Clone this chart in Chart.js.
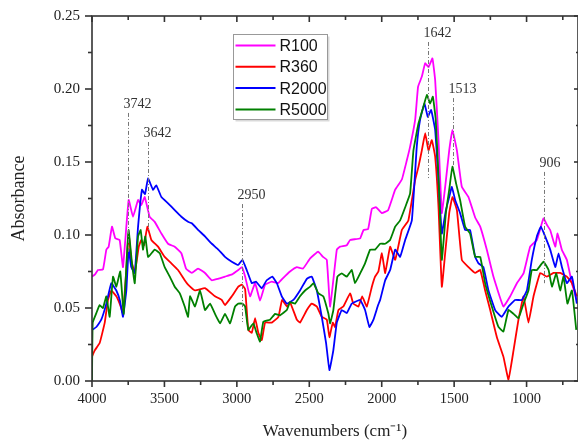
<!DOCTYPE html>
<html>
<head>
<meta charset="utf-8">
<script src="https://cdn.jsdelivr.net/npm/chart.js@4.4.1/dist/chart.umd.min.js"></script>
<style>
  html, body { margin: 0; padding: 0; background: #fff; }
  canvas { display: block; }
</style>
</head>
<body>
<canvas id="chart" width="578" height="442"></canvas>
<script>
// ---- data (wavenumber in cm-1, absorbance) ----
const seriesNames = ['R100', 'R360', 'R2000', 'R5000'];
const seriesColors = ['#ff00ff', '#ff0000', '#0000ff', '#008000'];

const r100X = [4000, 3979, 3959, 3924, 3901, 3885, 3862, 3839, 3809, 3786, 3747, 3717, 3682, 3660, 3636, 3602, 3567, 3521, 3475, 3429, 3383, 3351, 3311, 3268, 3220, 3173, 3130, 3082, 3033, 2990, 2964, 2943, 2909, 2874, 2840, 2805, 2759, 2715, 2681, 2633, 2586, 2543, 2494, 2439, 2405, 2379, 2356, 2310, 2287, 2241, 2218, 2149, 2126, 2094, 2068, 2039, 1999, 1956, 1907, 1861, 1827, 1804, 1769, 1749, 1723, 1700, 1677, 1650, 1631, 1608, 1585, 1562, 1534, 1512, 1481, 1447, 1401, 1355, 1320, 1274, 1229, 1160, 1113, 1067, 1021, 975, 929, 906, 883, 860, 837, 802, 786, 756, 722, 687, 653];
const r100Y = [0.0715, 0.073, 0.076, 0.0765, 0.090, 0.092, 0.1057, 0.0977, 0.0966, 0.078, 0.124, 0.1125, 0.124, 0.1205, 0.126, 0.1125, 0.109, 0.101, 0.094, 0.092, 0.0875, 0.077, 0.074, 0.077, 0.074, 0.069, 0.070, 0.0715, 0.073, 0.076, 0.078, 0.0715, 0.058, 0.067, 0.055, 0.066, 0.068, 0.067, 0.0705, 0.075, 0.078, 0.077, 0.084, 0.0886, 0.085, 0.083, 0.051, 0.090, 0.092, 0.093, 0.0966, 0.0977, 0.1034, 0.104, 0.118, 0.119, 0.115, 0.117, 0.131, 0.138, 0.151, 0.1605, 0.179, 0.2016, 0.2085, 0.2176, 0.215, 0.221, 0.206, 0.165, 0.115, 0.133, 0.158, 0.172, 0.158, 0.133, 0.126, 0.112, 0.1057, 0.0897, 0.0715, 0.051, 0.058, 0.067, 0.0737, 0.092, 0.0966, 0.104, 0.1114, 0.107, 0.1034, 0.092, 0.101, 0.0897, 0.083, 0.067, 0.0555];

const r360X = [4000, 3981, 3947, 3912, 3890, 3867, 3832, 3809, 3786, 3763, 3747, 3729, 3705, 3677, 3660, 3641, 3618, 3590, 3544, 3498, 3452, 3406, 3360, 3337, 3289, 3220, 3151, 3104, 3082, 3035, 2990, 2966, 2943, 2921, 2897, 2874, 2852, 2828, 2805, 2759, 2713, 2688, 2653, 2633, 2586, 2564, 2517, 2483, 2448, 2414, 2379, 2361, 2338, 2322, 2299, 2265, 2218, 2196, 2161, 2135, 2103, 2068, 2046, 2023, 1999, 1976, 1942, 1907, 1861, 1816, 1769, 1746, 1723, 1700, 1677, 1654, 1631, 1608, 1585, 1562, 1534, 1512, 1481, 1447, 1401, 1355, 1320, 1286, 1251, 1205, 1160, 1125, 1090, 1056, 1021, 987, 952, 906, 860, 814, 768, 722, 687, 653];
const r360Y = [0.0167, 0.021, 0.026, 0.040, 0.0555, 0.062, 0.058, 0.053, 0.0465, 0.076, 0.101, 0.083, 0.074, 0.092, 0.0966, 0.093, 0.1057, 0.0966, 0.092, 0.085, 0.0806, 0.076, 0.069, 0.066, 0.062, 0.0636, 0.058, 0.0555, 0.052, 0.058, 0.0646, 0.066, 0.063, 0.035, 0.033, 0.043, 0.033, 0.028, 0.040, 0.040, 0.044, 0.0555, 0.051, 0.054, 0.042, 0.040, 0.0486, 0.053, 0.051, 0.044, 0.042, 0.030, 0.040, 0.037, 0.0486, 0.051, 0.060, 0.053, 0.051, 0.058, 0.051, 0.0646, 0.0715, 0.075, 0.0875, 0.074, 0.092, 0.083, 0.1034, 0.110, 0.1377, 0.1468, 0.158, 0.1697, 0.158, 0.165, 0.1536, 0.119, 0.0646, 0.0875, 0.115, 0.126, 0.117, 0.083, 0.078, 0.074, 0.076, 0.062, 0.0486, 0.030, 0.0167, 0.001, 0.021, 0.042, 0.058, 0.040, 0.058, 0.074, 0.0715, 0.074, 0.074, 0.0715, 0.067, 0.058];

const r2000X = [4000, 3970, 3936, 3901, 3867, 3832, 3807, 3786, 3763, 3747, 3729, 3705, 3682, 3655, 3634, 3613, 3579, 3556, 3521, 3475, 3429, 3383, 3337, 3311, 3266, 3220, 3173, 3128, 3082, 3035, 2990, 2962, 2932, 2897, 2867, 2828, 2794, 2755, 2724, 2690, 2655, 2610, 2564, 2517, 2483, 2448, 2414, 2384, 2361, 2334, 2310, 2276, 2241, 2207, 2149, 2115, 2085, 2057, 2025, 2011, 1976, 1942, 1907, 1873, 1838, 1792, 1758, 1735, 1705, 1682, 1659, 1631, 1608, 1585, 1557, 1534, 1516, 1493, 1459, 1424, 1390, 1355, 1332, 1298, 1263, 1217, 1171, 1125, 1079, 1033, 998, 964, 929, 901, 872, 837, 802, 779, 756, 722, 687, 653];
const r2000Y = [0.035, 0.037, 0.042, 0.053, 0.067, 0.062, 0.055, 0.044, 0.062, 0.090, 0.078, 0.074, 0.1057, 0.131, 0.128, 0.1388, 0.131, 0.134, 0.126, 0.1217, 0.117, 0.1125, 0.109, 0.108, 0.1034, 0.099, 0.094, 0.090, 0.085, 0.0817, 0.0795, 0.083, 0.076, 0.067, 0.068, 0.0635, 0.069, 0.0715, 0.067, 0.058, 0.053, 0.0555, 0.062, 0.070, 0.0715, 0.062, 0.044, 0.026, 0.0075, 0.021, 0.040, 0.0486, 0.0465, 0.053, 0.0555, 0.0486, 0.037, 0.042, 0.052, 0.0555, 0.069, 0.076, 0.090, 0.085, 0.0966, 0.110, 0.1605, 0.179, 0.190, 0.181, 0.1856, 0.172, 0.1377, 0.101, 0.117, 0.126, 0.133, 0.124, 0.115, 0.1034, 0.1034, 0.085, 0.0806, 0.078, 0.062, 0.0486, 0.044, 0.051, 0.0555, 0.0555, 0.062, 0.083, 0.099, 0.1057, 0.099, 0.090, 0.078, 0.0874, 0.078, 0.067, 0.0715, 0.053];

const r5000X = [4000, 3995, 3970, 3947, 3924, 3901, 3878, 3855, 3832, 3805, 3781, 3756, 3747, 3724, 3705, 3682, 3664, 3648, 3632, 3613, 3567, 3532, 3498, 3463, 3429, 3394, 3360, 3337, 3323, 3289, 3254, 3220, 3185, 3151, 3116, 3082, 3047, 3013, 2990, 2962, 2943, 2921, 2886, 2864, 2840, 2817, 2771, 2736, 2702, 2655, 2633, 2598, 2564, 2529, 2494, 2471, 2437, 2403, 2368, 2356, 2334, 2306, 2276, 2241, 2207, 2184, 2149, 2115, 2080, 2046, 2011, 1976, 1942, 1907, 1873, 1838, 1804, 1781, 1746, 1712, 1688, 1666, 1647, 1627, 1604, 1585, 1557, 1534, 1512, 1486, 1459, 1424, 1390, 1355, 1320, 1286, 1240, 1194, 1160, 1125, 1090, 1056, 1021, 987, 964, 929, 883, 848, 825, 795, 768, 745, 718, 687, 657];
const r5000Y = [0.0, 0.040, 0.0465, 0.052, 0.050, 0.058, 0.044, 0.0715, 0.0646, 0.075, 0.046, 0.092, 0.1034, 0.0806, 0.067, 0.099, 0.1034, 0.090, 0.099, 0.085, 0.090, 0.0874, 0.078, 0.0715, 0.0646, 0.060, 0.051, 0.044, 0.058, 0.051, 0.062, 0.0486, 0.053, 0.046, 0.0395, 0.046, 0.0395, 0.051, 0.053, 0.053, 0.051, 0.035, 0.0395, 0.033, 0.027, 0.0406, 0.042, 0.046, 0.045, 0.0486, 0.054, 0.053, 0.058, 0.062, 0.0646, 0.067, 0.060, 0.058, 0.046, 0.0395, 0.0486, 0.0715, 0.0737, 0.0715, 0.076, 0.067, 0.0737, 0.0806, 0.090, 0.090, 0.094, 0.094, 0.0966, 0.1057, 0.110, 0.119, 0.1285, 0.158, 0.1765, 0.188, 0.196, 0.190, 0.1947, 0.179, 0.131, 0.083, 0.115, 0.131, 0.1468, 0.135, 0.124, 0.1057, 0.101, 0.085, 0.085, 0.067, 0.051, 0.037, 0.0338, 0.0486, 0.046, 0.043, 0.053, 0.062, 0.076, 0.076, 0.0817, 0.076, 0.0646, 0.0737, 0.062, 0.0715, 0.053, 0.062, 0.035];

const xTickValues = [1000, 1500, 2000, 2500, 3000, 3500, 4000];

// peak annotations: label, position, dashed line from top value to bottom value
const peakLabels = ['3742', '3642', '2950', '1642', '1513', '906'];
const peakX = [3749, 3611, 2962, 1682, 1505, 878];
const peakTop = [0.1836, 0.1637, 0.1212, 0.2322, 0.1938, 0.1432];
const peakBottom = [0.0877, 0.1034, 0.0404, 0.139, 0.1459, 0.067];

const xs = [r100X, r360X, r2000X, r5000X];
const ys = [r100Y, r360Y, r2000Y, r5000Y];

const serif = "'Liberation Serif', 'Times New Roman', serif";
const sans = "'Liberation Sans', Arial, sans-serif";

const framePlugin = {
    id: 'frame',
    afterDatasetsDraw(chart) {
        const { ctx, scales: { x, y } } = chart;
        ctx.save();
        ctx.strokeStyle = '#777';
        ctx.lineWidth = 1;
        ctx.setLineDash([4, 2, 1, 2]);
        ctx.font = '14px ' + serif;
        ctx.fillStyle = '#333';
        ctx.textAlign = 'left';
        ctx.textBaseline = 'middle';
        peakLabels.forEach((label, i) => {
            const px = Math.round(x.getPixelForValue(peakX[i])) + 0.5;
            const top = y.getPixelForValue(peakTop[i]);
            ctx.beginPath();
            ctx.moveTo(px, top);
            ctx.lineTo(px, y.getPixelForValue(peakBottom[i]));
            ctx.stroke();
            ctx.fillText(label, px - 5, top - 9);
        });
        ctx.restore();
    },
    afterDraw(chart) {
        const { ctx, chartArea: a, scales: { x, y } } = chart;
        const seg = (x1, y1, x2, y2) => {
            ctx.beginPath();
            ctx.moveTo(x1, y1);
            ctx.lineTo(x2, y2);
            ctx.stroke();
        };
        ctx.save();
        ctx.strokeStyle = '#333';
        ctx.lineWidth = 1.6;
        ctx.strokeRect(a.left, a.top, a.right - a.left, a.bottom - a.top);

        for (let v = 750; v <= 4000; v += 250) {
            const px = x.getPixelForValue(v);
            const len = v % 500 === 0 ? 6 : 4;
            seg(px, a.bottom, px, a.bottom + len);
            seg(px, a.top, px, a.top + len);
        }
        for (let i = 0; i <= 10; i++) {
            const py = y.getPixelForValue(i * 0.025);
            const major = i % 2 === 0;
            seg(a.left - (major ? 7 : 4), py, a.left, py);
            seg(a.right - (major ? 4 : 2), py, a.right, py);
        }

        // legend box
        const lx = 233.5, ly = 34.5, lw = 94, lh = 85;
        ctx.fillStyle = 'rgba(0,0,0,0.15)';
        ctx.fillRect(lx + 2, ly + 2, lw, lh);
        ctx.fillStyle = '#fff';
        ctx.fillRect(lx, ly, lw, lh);
        ctx.strokeStyle = '#999';
        ctx.lineWidth = 1;
        ctx.strokeRect(lx, ly, lw, lh);
        ctx.font = '16px ' + sans;
        ctx.textAlign = 'left';
        ctx.textBaseline = 'middle';
        chart.data.datasets.forEach((ds, i) => {
            const ry = ly + 11 + i * 21.3;
            ctx.strokeStyle = ds.borderColor;
            ctx.lineWidth = 2;
            seg(lx + 2, ry, lx + 42, ry);
            ctx.fillStyle = '#111';
            ctx.fillText(ds.label, lx + 46, ry + 1);
        });
        ctx.restore();
    }
};

new Chart(document.getElementById('chart'), {
    type: 'line',
    data: {
        datasets: seriesNames.map((name, i) => ({
            label: name,
            data: xs[i].map((w, j) => ({ x: w, y: ys[i][j] })),
            borderColor: seriesColors[i],
            borderWidth: 1.8,
            pointRadius: 0,
            tension: 0.1,
            fill: false,
            order: seriesNames.length - i
        }))
    },
    options: {
        responsive: false,
        animation: false,
        events: [],
        layout: { padding: { top: 16, right: 0, left: 0, bottom: 0 } },
        plugins: {
            legend: { display: false },
            tooltip: { enabled: false }
        },
        scales: {
            x: {
                type: 'linear',
                reverse: true,
                min: 645,
                max: 4000,
                afterBuildTicks: (scale) => {
                    scale.ticks = xTickValues.map(value => ({ value }));
                },
                afterFit: (scale) => { scale.height = 61; },
                grid: { display: false, drawTicks: true, tickLength: 6 },
                border: { display: false },
                ticks: {
                    padding: 3,
                    maxRotation: 0,
                    color: '#222',
                    font: { family: serif, size: 14.5 },
                    callback: (v) => String(v)
                },
                title: {
                    display: true,
                    text: 'Wavenumbers (cm\u207B\u00B9)',
                    color: '#222',
                    font: { family: serif, size: 17 },
                    padding: { top: 0, bottom: 0 }
                }
            },
            y: {
                min: 0,
                max: 0.25,
                afterFit: (scale) => { scale.width = 92; },
                grid: { display: false, drawTicks: true, tickLength: 7 },
                border: { display: false },
                ticks: {
                    stepSize: 0.05,
                    padding: 5,
                    color: '#222',
                    font: { family: serif, size: 15 },
                    callback: (v) => v.toFixed(2)
                },
                title: {
                    display: true,
                    text: 'Absorbance',
                    color: '#222',
                    font: { family: serif, size: 18 },
                    padding: { top: 8, bottom: 0 }
                }
            }
        }
    },
    plugins: [framePlugin]
});
</script>
</body>
</html>
